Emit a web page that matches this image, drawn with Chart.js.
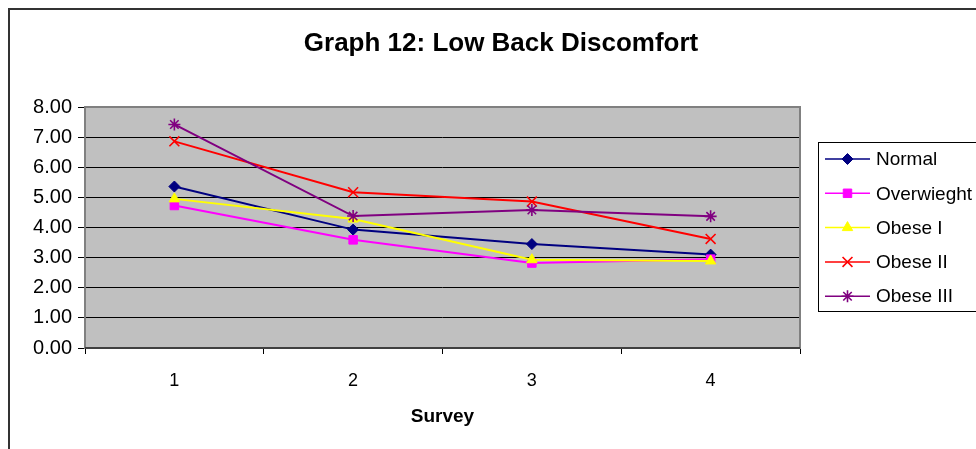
<!DOCTYPE html>
<html>
<head>
<meta charset="utf-8">
<script src="https://cdn.jsdelivr.net/npm/chart.js@4"></script>
<style>
  html, body { margin: 0; padding: 0; background: #fff; }
  #wrap { width: 976px; height: 449px; position: relative; }
</style>
</head>
<body>
<div id="wrap"><canvas id="chart-graph12"></canvas></div>
<script>
const surveys = ['1', '2', '3', '4']
const normal = [5.36, 3.93, 3.45, 3.10]
const overweight = [4.73, 3.59, 2.82, 2.95]
const obese1 = [4.95, 4.28, 2.93, 2.89]
const obese2 = [6.86, 5.17, 4.86, 3.62]
const obese3 = [7.42, 4.38, 4.58, 4.37]
const seriesNames = ['Normal', 'Overwieght', 'Obese I', 'Obese II', 'Obese III']
const chartTitle = 'Graph 12: Low Back Discomfort'
const axisTitle = 'Survey'

const FONT = "'Liberation Sans', Arial, sans-serif"

function series(label, data, color, style, radius, order){
  return {
    label: label,
    data: data,
    borderColor: color,
    backgroundColor: color,
    borderWidth: 2,
    pointStyle: style,
    pointRadius: radius,
    pointHoverRadius: radius,
    pointBorderWidth: (style === 'crossRot' || style === 'star') ? 1.6 : 1,
    tension: 0,
    order: order,
  }
}

// draws the grey plot box, outer frame, title and the boxed legend
const excelLook = {
  id: 'excelLook',
  beforeDatasetsDraw(chart){
    const {ctx, chartArea: a} = chart
    ctx.save()
    ctx.strokeStyle = '#808080'
    ctx.lineWidth = 2
    ctx.strokeRect(a.left, a.top, a.right - a.left, a.bottom - a.top)
    ctx.strokeStyle = '#404040'
    ctx.beginPath()
    ctx.moveTo(a.left, a.bottom)
    ctx.lineTo(a.right, a.bottom)
    ctx.stroke()
    ctx.restore()
  },
  beforeDraw(chart){
    const {ctx, chartArea: a} = chart
    ctx.save()
    ctx.fillStyle = '#C0C0C0'
    ctx.fillRect(a.left, a.top, a.right - a.left, a.bottom - a.top)
    ctx.restore()
  },
  afterDraw(chart){
    const ctx = chart.ctx
    ctx.save()
    // outer frame
    ctx.strokeStyle = '#333'
    ctx.lineWidth = 2
    ctx.beginPath()
    ctx.moveTo(9, 460)
    ctx.lineTo(9, 9)
    ctx.lineTo(990, 9)
    ctx.stroke()

    // title
    ctx.fillStyle = '#000'
    ctx.font = `bold 26px ${FONT}`
    ctx.textAlign = 'center'
    ctx.textBaseline = 'middle'
    ctx.fillText(chartTitle, 501, 44)

    // legend
    ctx.strokeStyle = '#000'
    ctx.lineWidth = 1
    ctx.strokeRect(818.5, 142.5, 200, 169)
    ctx.font = `19px ${FONT}`
    ctx.textAlign = 'left'
    chart.data.datasets.forEach((ds, i) => {
      const y = 159 + i * 34.3
      ctx.strokeStyle = ds.borderColor
      ctx.fillStyle = ds.backgroundColor
      ctx.lineWidth = 1.5
      ctx.beginPath()
      ctx.moveTo(825, y)
      ctx.lineTo(870, y)
      ctx.stroke()
      ctx.lineWidth = ds.pointBorderWidth
      Chart.helpers.drawPoint(ctx, {pointStyle: ds.pointStyle, radius: ds.pointRadius, rotation: 0, borderWidth: ds.pointBorderWidth}, 847.5, y)
      ctx.fillStyle = '#000'
      ctx.fillText(ds.label, 876, y + 1)
    })
    ctx.restore()
  }
}

const canvas = document.getElementById('chart-graph12')

let chart = new Chart(canvas, {
  type: 'line',
  data: {
    labels: surveys,
    datasets: [
      series(seriesNames[0], normal, '#000080', 'rectRot', 5.5, 5),
      series(seriesNames[1], overweight, '#FF00FF', 'rect', 6, 4),
      series(seriesNames[2], obese1, '#FFFF00', 'triangle', 6, 3),
      series(seriesNames[3], obese2, '#FF0000', 'crossRot', 7, 2),
      series(seriesNames[4], obese3, '#800080', 'star', 6, 1),
    ]
  },
  options: {
    responsive: true,
    maintainAspectRatio: false,
    animation: false,
    layout: {
      padding: {left: 0, top: 107, right: 176, bottom: 0}
    },
    plugins: {
      legend: {display: false},
      title: {display: false},
      tooltip: {enabled: false},
    },
    scales: {
      x: {
        type: 'category',
        offset: true,
        afterFit: s => { s.height = 101 },
        grid: {
          offset: true,
          drawOnChartArea: false,
          drawTicks: true,
          tickLength: 6,
          color: '#000',
          lineWidth: 1,
        },
        border: {display: false},
        ticks: {
          color: '#000',
          padding: 16,
          font: {family: FONT, size: 18},
          maxRotation: 0,
        },
        title: {
          display: true,
          text: axisTitle,
          color: '#000',
          font: {family: FONT, size: 19, weight: 'bold'},
          padding: {top: 0, bottom: 21},
        }
      },
      y: {
        min: 0,
        max: 8,
        afterFit: s => { s.width = 85 },
        grid: {
          color: '#000',
          lineWidth: 1,
          drawTicks: true,
          tickLength: 7,
        },
        border: {display: false},
        ticks: {
          stepSize: 1,
          color: '#000',
          padding: 6,
          font: {family: FONT, size: 20},
          callback: v => v.toFixed(2),
        }
      }
    }
  },
  plugins: [excelLook]
})
</script>
</body>
</html>
